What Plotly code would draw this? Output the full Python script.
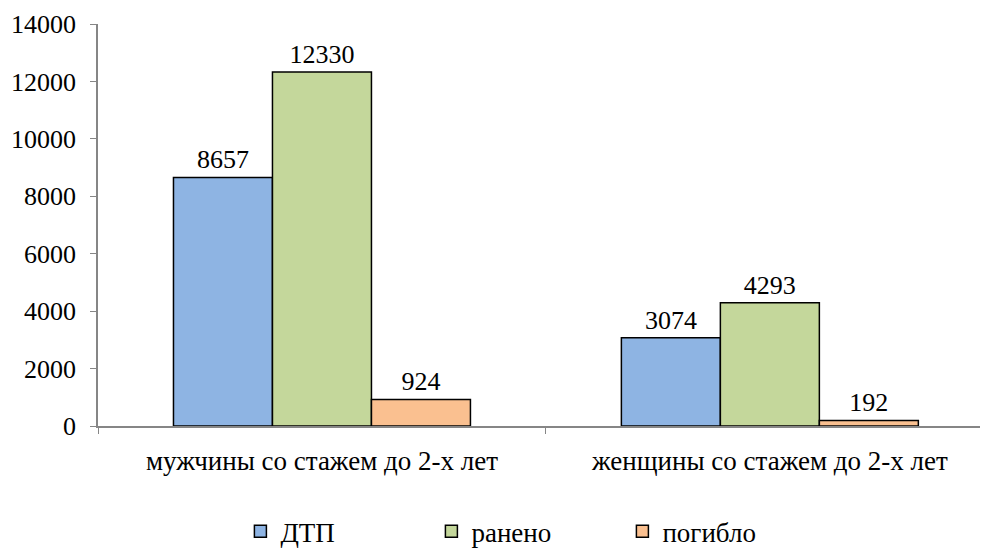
import plotly.graph_objects as go

categories = ["мужчины со стажем до 2-х лет", "женщины со стажем до 2-х лет"]
series_names = ["ДТП", "ранено", "погибло"]
dtp = [8657, 3074]
raneno = [12330, 4293]
pogiblo = [924, 192]
colors = ["#8EB4E3", "#C4D79B", "#FAC090"]

FONT = "Liberation Serif, Times New Roman, serif"
FS_NUM = 26
FS_TXT = 27

fig = go.Figure()
for name, vals, col in zip(series_names, [dtp, raneno, pogiblo], colors):
    fig.add_trace(go.Bar(
        x=categories, y=vals, name=name,
        marker=dict(color=col, line=dict(color="#000000", width=1.5)),
        text=[str(v) for v in vals], textposition="outside",
        textfont=dict(family=FONT, size=FS_NUM, color="#000000"),
        cliponaxis=False,
    ))

fig.update_layout(
    width=988, height=549,
    margin=dict(l=90, r=8, t=16, b=131, autoexpand=False),
    paper_bgcolor="white", plot_bgcolor="white",
    barmode="group", bargap=0.337, bargroupgap=0,
    font=dict(family=FONT, size=FS_NUM, color="#000000"),
    showlegend=True,
    legend=dict(orientation="h", x=0.16, xanchor="left", yref="container",
                y=0.046, yanchor="middle",
                font=dict(family=FONT, size=FS_TXT, color="#000000"),
                entrywidth=146, entrywidthmode="pixels",
                itemwidth=30, traceorder="normal"),
    uniformtext=dict(minsize=FS_NUM, mode="show"),
)
fig.update_xaxes(
    type="category", range=[-0.5, 1.487], automargin=False,
    showline=True, linecolor="#868686", linewidth=1.5,
    ticks="outside", tickson="boundaries", ticklen=6, tickcolor="#868686",
    tickfont=dict(family=FONT, size=FS_TXT, color="#000000"),
    ticklabelstandoff=10,
    showgrid=False,
)
fig.update_yaxes(
    range=[0, 14000], tick0=0, dtick=2000, tickformat="d", automargin=False,
    showline=True, linecolor="#868686", linewidth=1.5,
    ticks="outside", ticklen=6, tickcolor="#868686",
    tickfont=dict(family=FONT, size=FS_NUM, color="#000000"),
    ticklabelstandoff=9,
    showgrid=False, zeroline=False,
)

fig.write_html("out.html")
